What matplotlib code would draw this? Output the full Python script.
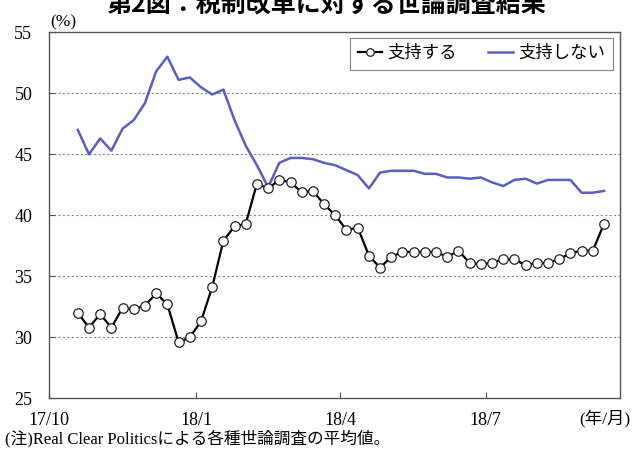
import matplotlib
matplotlib.use("Agg")
import matplotlib.pyplot as plt
import pandas as pd

plt.rcParams['font.family'] = ['Liberation Serif', 'Noto Sans CJK JP', 'DejaVu Sans']

# weekly series (Real Clear Politics average)
start_date = "2017-10-19"
n_weeks = 48
support = [32.0, 30.8, 31.9, 30.8, 32.4, 32.3, 32.6, 33.6, 32.7, 29.6,
           30.0, 31.3, 34.1, 37.9, 39.1, 39.3, 42.6, 42.2, 42.9, 42.7,
           41.9, 42.0, 40.9, 40.0, 38.8, 39.0, 36.7, 35.7, 36.6, 37.0,
           37.0, 37.0, 37.0, 36.6, 37.1, 36.1, 36.0, 36.1, 36.4, 36.4,
           35.9, 36.1, 36.1, 36.4, 36.9, 37.1, 37.1, 39.3]
oppose = [47.0, 45.0, 46.3, 45.3, 47.1, 47.8, 49.2, 51.8, 53.0, 51.1,
          51.3, 50.5, 49.9, 50.3, 47.8, 45.7, 44.1, 42.3, 44.3, 44.7,
          44.7, 44.6, 44.3, 44.1, 43.7, 43.3, 42.2, 43.5, 43.65, 43.65,
          43.65, 43.4, 43.4, 43.1, 43.1, 43.0, 43.1, 42.7, 42.4, 42.9,
          43.0, 42.6, 42.9, 42.9, 42.9, 41.85, 41.85, 42.0]
series_labels = ["支持する", "支持しない"]
tick_dates = ["2017-10-01", "2018-01-01", "2018-04-01", "2018-07-01"]
tick_labels = ["17/10", "18/1", "18/4", "18/7"]
y_ticks = [25, 30, 35, 40, 45, 50, 55]

dates = pd.date_range(start_date, periods=n_weeks, freq="7D")

W, H = 633, 449
fig = plt.figure(figsize=(W / 100, H / 100), dpi=100)
ax = fig.add_axes([49 / W, 1 - 398.3 / H, (620 - 49) / W, (398.3 - 32.3) / H])

ax.plot(dates, support, color='black', lw=1.6, marker='o', ms=6.8,
        mfc='white', mec='#222222', mew=0.9, label=series_labels[0], zorder=3)
ax.plot(dates, oppose, color='#5a5fc0', lw=1.8, label=series_labels[1], zorder=2)

ax.set_xlim(pd.Timestamp("2017-10-01"), pd.Timestamp("2018-09-23"))
ax.set_ylim(25, 55)
ax.set_yticks(y_ticks)
ax.set_xticks(pd.to_datetime(tick_dates))
ax.set_xticklabels(tick_labels)
ax.tick_params(axis='both', direction='in', length=4, width=0.8, colors='#555555',
               labelcolor='black', labelsize=13)
ax.tick_params(axis='y', pad=12)
ax.tick_params(axis='x', pad=10)

for v in y_ticks[1:-1]:
    ax.axhline(v, color='#888888', lw=0.8, ls=(0, (2, 2)), zorder=1)

for s in ax.spines.values():
    s.set_color('#555555')
    s.set_linewidth(1.0)

leg = ax.legend(loc='upper right', ncol=2, frameon=True, fancybox=False,
                fontsize=12.5, handlelength=1.4, handletextpad=0.3,
                columnspacing=1.8, borderpad=0.45, borderaxespad=0,
                markerscale=0.8, bbox_to_anchor=(0.987, 0.985))
leg.get_frame().set_edgecolor('#666666')
leg.get_frame().set_linewidth(0.8)

fig.text(50 / W, 1 - 22 / H, "(%)", fontsize=12.5, ha='left', va='center')
fig.text(630 / W, 1 - 418 / H, "(年/月)", fontsize=12.5, ha='right', va='center')
fig.text(5 / W, 1 - 439 / H, "(注)Real Clear Politicsによる各種世論調査の平均値。",
         fontsize=12, ha='left', va='center')
fig.text(326 / W, 1 - 12 / H, "第2図：税制改革に対する世論調査結果",
         fontsize=18, ha='center', va='baseline', fontweight='bold',
         family=['Noto Sans CJK JP', 'DejaVu Sans'])

fig.savefig("out.png", dpi=100)
